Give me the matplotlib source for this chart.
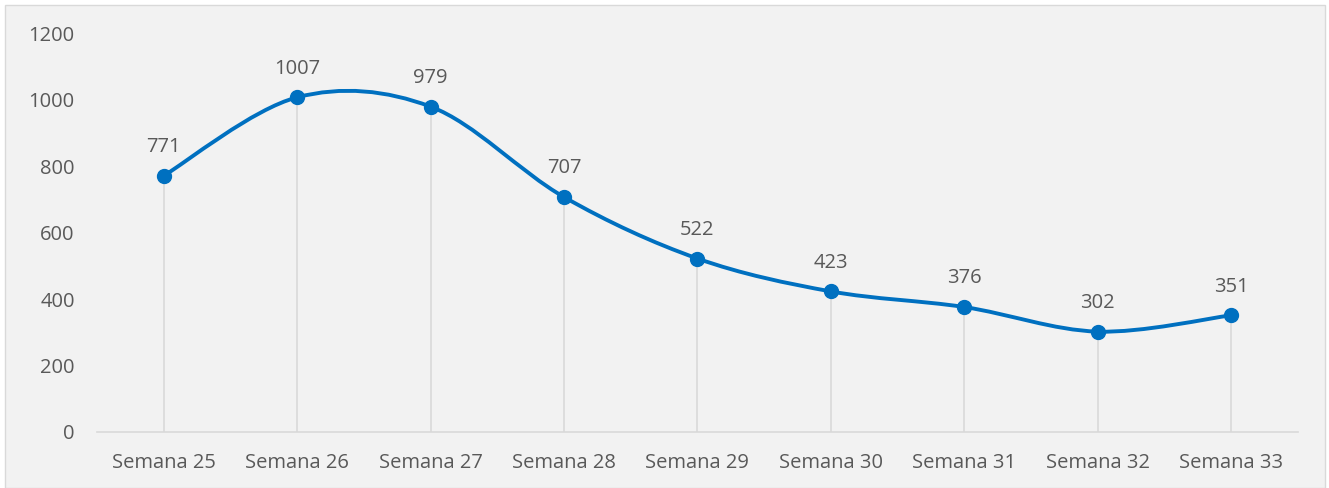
import numpy as np
import matplotlib.pyplot as plt
from matplotlib.path import Path
from matplotlib.patches import PathPatch, Rectangle

semanas = ["Semana 25", "Semana 26", "Semana 27", "Semana 28", "Semana 29",
           "Semana 30", "Semana 31", "Semana 32", "Semana 33"]
casos = [771, 1007, 979, 707, 522, 423, 376, 302, 351]
yticks = [0, 200, 400, 600, 800, 1000, 1200]

plt.rcParams['font.family'] = ['Open Sans', 'DejaVu Sans']

azul = "#0070C0"
gris_txt = "#595959"
gris_lin = "#D9D9D9"

fig = plt.figure(figsize=(13.29, 4.88), dpi=100)
fig.patch.set_facecolor("white")
# panel gris de fondo (como en Excel)
fig.patches.append(Rectangle((5 / 1329, 0), 1320 / 1329, 483 / 488,
                             transform=fig.transFigure, facecolor="#F2F2F2",
                             edgecolor=gris_lin, linewidth=1, zorder=-5))

ax = fig.add_axes([0.073, 0.1148, 0.9035, 0.8172])
ax.set_facecolor("none")

x = np.arange(len(casos))
y = np.array(casos, dtype=float)

# líneas de caída
ax.vlines(x, 0, y, color=gris_lin, linewidth=1.2, zorder=1)

# línea suavizada (Bezier tipo Excel)
verts = [(x[0], y[0])]
codes = [Path.MOVETO]
n = len(x)
for i in range(n - 1):
    p0 = (x[i - 1], y[i - 1]) if i > 0 else (x[i], y[i])
    p1 = (x[i], y[i])
    p2 = (x[i + 1], y[i + 1])
    p3 = (x[i + 2], y[i + 2]) if i + 2 < n else p2
    c1 = (p1[0] + (p2[0] - p0[0]) / 6, p1[1] + (p2[1] - p0[1]) / 6)
    c2 = (p2[0] - (p3[0] - p1[0]) / 6, p2[1] - (p3[1] - p1[1]) / 6)
    verts += [c1, c2, p2]
    codes += [Path.CURVE4] * 3
ax.add_patch(PathPatch(Path(verts, codes), facecolor="none", edgecolor=azul,
                       linewidth=2.8, capstyle="round", zorder=2))
ax.plot(x, y, linestyle="none", marker="o", markersize=10, color=azul, zorder=3)

for xi, yi in zip(x, casos):
    ax.annotate(str(yi), (xi, yi), xytext=(0, 13.5), textcoords="offset points",
                ha="center", va="bottom", fontsize=14.5, color=gris_txt)

ax.set_xlim(-0.5, len(casos) - 0.5)
ax.set_ylim(0, 1200)
ax.set_xticks(x)
ax.set_xticklabels(semanas)
ax.set_yticks(yticks)
ax.tick_params(axis="both", length=0, labelsize=14.5, labelcolor=gris_txt)
ax.tick_params(axis="x", pad=15)
ax.tick_params(axis="y", pad=16)
for s in ["top", "right", "left"]:
    ax.spines[s].set_visible(False)
ax.spines["bottom"].set_color(gris_lin)
ax.spines["bottom"].set_linewidth(1.2)

fig.savefig("out.png", dpi=100)
